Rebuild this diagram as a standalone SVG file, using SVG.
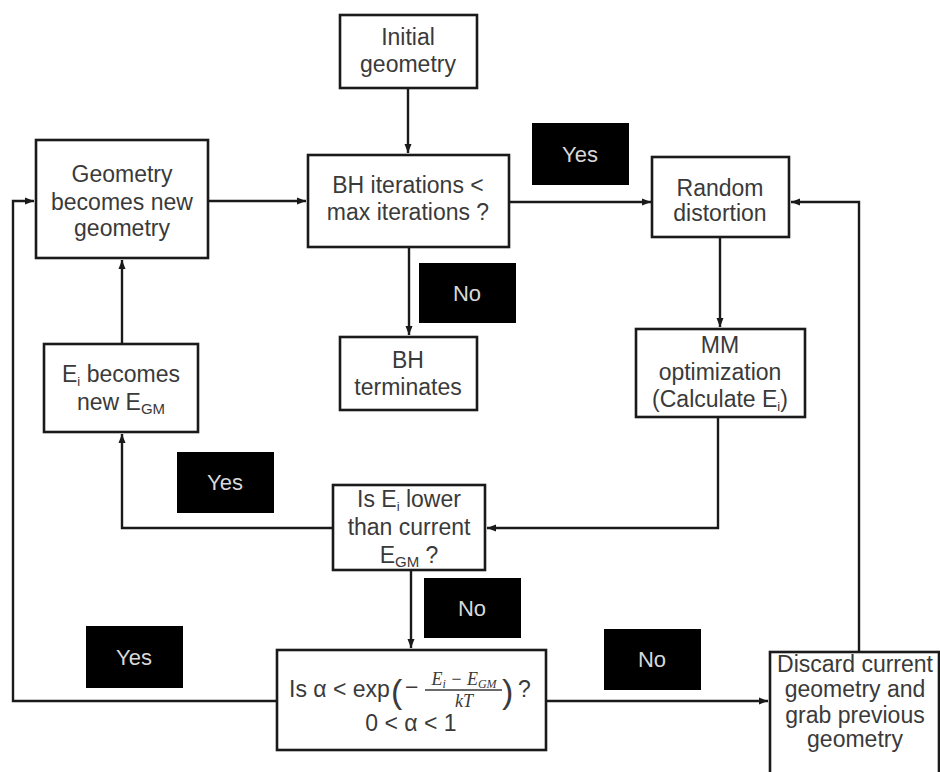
<svg xmlns="http://www.w3.org/2000/svg" width="940" height="772" viewBox="0 0 940 772">
<defs>
<marker id="ah" markerWidth="10" markerHeight="8" refX="9" refY="4" orient="auto" markerUnits="userSpaceOnUse">
<path d="M0,0.5 L9,4 L0,7.5 Z" fill="#1a1a1a"/>
</marker>
<style>
.box{fill:#fff;stroke:#1a1a1a;stroke-width:2.6}
.t{font-family:"Liberation Sans",Arial,sans-serif;font-size:23px;fill:#3a3a3a;text-anchor:middle}
.lab{fill:#000}
.lt{font-family:"Liberation Sans",Arial,sans-serif;font-size:22px;fill:#d8d8d8;text-anchor:middle}
.c{fill:none;stroke:#1a1a1a;stroke-width:2.4}
.m{font-family:"Liberation Serif","Times New Roman",serif;font-style:italic;fill:#3a3a3a}
</style>
</defs>
<rect width="940" height="772" fill="#fff"/>

<g id="connectors">
<path class="c" d="M408,88 V153" marker-end="url(#ah)"/>
<path class="c" d="M208,201 H306" marker-end="url(#ah)"/>
<path class="c" d="M509,202 H651" marker-end="url(#ah)"/>
<path class="c" d="M409,247 V335" marker-end="url(#ah)"/>
<path class="c" d="M720,237 V327" marker-end="url(#ah)"/>
<path class="c" d="M718,417 V528 H487" marker-end="url(#ah)"/>
<path class="c" d="M333,528 H122 V434" marker-end="url(#ah)"/>
<path class="c" d="M122,344 V260" marker-end="url(#ah)"/>
<path class="c" d="M411,570 V648" marker-end="url(#ah)"/>
<path class="c" d="M277,701 H13 V201 H34" marker-end="url(#ah)"/>
<path class="c" d="M546,701 H768" marker-end="url(#ah)"/>
<path class="c" d="M859,652 V202 H791" marker-end="url(#ah)"/>
</g>

<g id="initial">
<rect class="box" x="340" y="15" width="137" height="73"/>
<text class="t" x="408" y="45">Initial</text>
<text class="t" x="408" y="72">geometry</text>
</g>

<g id="geometry-new">
<rect class="box" x="36" y="140" width="172" height="118"/>
<text class="t" x="122" y="182">Geometry</text>
<text class="t" x="122" y="210">becomes new</text>
<text class="t" x="122" y="236">geometry</text>
</g>

<g id="bh-iter">
<rect class="box" x="308" y="155" width="201" height="92"/>
<text class="t" x="408" y="193">BH iterations &lt;</text>
<text class="t" x="408" y="220">max iterations ?</text>
</g>

<g id="random">
<rect class="box" x="652" y="157" width="137" height="80"/>
<text class="t" x="720" y="196">Random</text>
<text class="t" x="720" y="221">distortion</text>
</g>

<g id="bh-term">
<rect class="box" x="340" y="337" width="137" height="73"/>
<text class="t" x="408" y="368">BH</text>
<text class="t" x="408" y="395">terminates</text>
</g>

<g id="mm">
<rect class="box" x="636" y="329" width="169" height="88"/>
<text class="t" x="720" y="353">MM</text>
<text class="t" x="720" y="380">optimization</text>
<text class="t" x="720" y="407">(Calculate E<tspan font-size="13" dy="4">i</tspan><tspan dy="-4">)</tspan></text>
</g>

<g id="ei-new">
<rect class="box" x="44" y="344" width="154" height="88"/>
<text class="t" x="121" y="382">E<tspan font-size="13" dy="4">i</tspan><tspan dy="-4"> becomes</tspan></text>
<text class="t" x="121" y="410">new E<tspan font-size="15" dy="4">GM</tspan></text>
</g>

<g id="is-lower">
<rect class="box" x="333" y="485" width="152" height="85"/>
<text class="t" x="409" y="507">Is E<tspan font-size="13" dy="4">i</tspan><tspan dy="-4"> lower</tspan></text>
<text class="t" x="409" y="535">than current</text>
<text class="t" x="409" y="563">E<tspan font-size="15" dy="4">GM</tspan><tspan dy="-4"> ?</tspan></text>
</g>

<g id="metropolis">
<rect class="box" x="277" y="650" width="269" height="100"/>
<text class="t" x="289" y="697" style="text-anchor:start">Is α &lt; exp</text>
<text class="t" x="391" y="703" style="text-anchor:start;font-size:34px">(</text>
<text class="t" x="405" y="695" style="text-anchor:start">−</text>
<text class="m" x="464" y="685" font-size="18" text-anchor="middle">E<tspan font-size="12" dy="3">i</tspan><tspan dy="-3"> − E</tspan><tspan font-size="12" dy="3">GM</tspan></text>
<line x1="425" y1="690" x2="502" y2="690" stroke="#3a3a3a" stroke-width="1.3"/>
<text class="m" x="464" y="707" font-size="18" text-anchor="middle">kT</text>
<text class="t" x="502" y="703" style="text-anchor:start;font-size:34px">)</text>
<text class="t" x="518" y="697" style="text-anchor:start">?</text>
<text class="t" x="411" y="731">0 &lt; α &lt; 1</text>
</g>

<g id="discard">
<rect class="box" x="770" y="652" width="169" height="130"/>
<text class="t" x="855" y="672">Discard current</text>
<text class="t" x="855" y="697">geometry and</text>
<text class="t" x="855" y="723">grab previous</text>
<text class="t" x="855" y="747">geometry</text>
</g>

<g id="label-yes1"><rect class="lab" x="532" y="123" width="97" height="62"/><text class="lt" x="580" y="162">Yes</text></g>
<g id="label-no1"><rect class="lab" x="419" y="263" width="97" height="60"/><text class="lt" x="467" y="301">No</text></g>
<g id="label-yes2"><rect class="lab" x="177" y="452" width="97" height="61"/><text class="lt" x="225" y="490">Yes</text></g>
<g id="label-no2"><rect class="lab" x="424" y="578" width="97" height="60"/><text class="lt" x="472" y="616">No</text></g>
<g id="label-yes3"><rect class="lab" x="86" y="626" width="97" height="62"/><text class="lt" x="134" y="665">Yes</text></g>
<g id="label-no3"><rect class="lab" x="604" y="629" width="97" height="61"/><text class="lt" x="652" y="667">No</text></g>
</svg>
